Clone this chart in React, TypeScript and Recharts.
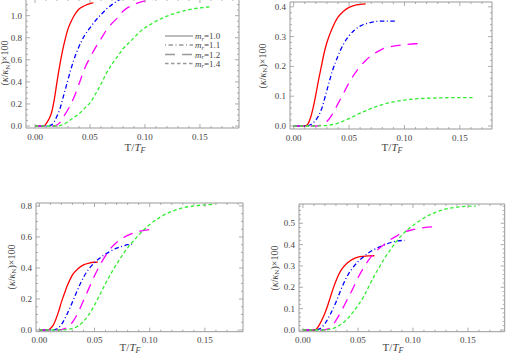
import React from "react"
import { LineChart, Line, XAxis, YAxis, Legend } from "recharts"

// kappa/kappa_N (x100) against T/T_F, four panels, one curve per mass ratio m_r
const massRatios = ["1.0", "1.1", "1.2", "1.4"]
const xMajor = [0, 0.05, 0.1, 0.15]

// panel (a) top left
const p1Red = [[0, 0], [0.008, 0], [0.01, 0.02], [0.0125, 0.06], [0.015, 0.12], [0.0175, 0.24], [0.02, 0.4], [0.0225, 0.55], [0.025, 0.68], [0.0275, 0.79], [0.03, 0.88], [0.0325, 0.94], [0.035, 0.99], [0.0375, 1.03], [0.04, 1.06], [0.045, 1.09], [0.05, 1.11], [0.053, 1.115]]
const p1Blue = [[0, 0], [0.012, 0], [0.015, 0.01], [0.0175, 0.04], [0.02, 0.09], [0.0225, 0.15], [0.025, 0.24], [0.0275, 0.33], [0.03, 0.42], [0.0325, 0.51], [0.035, 0.59], [0.0375, 0.66], [0.04, 0.72], [0.045, 0.82], [0.05, 0.89], [0.055, 0.955], [0.06, 1.01], [0.065, 1.06], [0.07, 1.1], [0.075, 1.135], [0.08, 1.155], [0.085, 1.165], [0.092, 1.17]]
const p1Magenta = [[0, 0], [0.018, 0], [0.02, 0.01], [0.0225, 0.03], [0.025, 0.07], [0.03, 0.15], [0.035, 0.25], [0.04, 0.38], [0.045, 0.52], [0.05, 0.62], [0.055, 0.71], [0.06, 0.79], [0.065, 0.87], [0.07, 0.93], [0.075, 0.98], [0.08, 1.04], [0.09, 1.1], [0.1, 1.135], [0.11, 1.15], [0.117, 1.155]]
const p1Green = [[0, 0], [0.02, 0], [0.025, 0.01], [0.03, 0.04], [0.035, 0.075], [0.04, 0.11], [0.045, 0.16], [0.05, 0.21], [0.055, 0.29], [0.06, 0.38], [0.065, 0.48], [0.07, 0.56], [0.075, 0.63], [0.08, 0.7], [0.085, 0.75], [0.09, 0.8], [0.095, 0.85], [0.1, 0.89], [0.105, 0.92], [0.11, 0.95], [0.12, 0.995], [0.13, 1.03], [0.14, 1.055], [0.15, 1.07], [0.159, 1.08]]

// panel (b) top right
const p2Red = [[0, 0], [0.01, 0], [0.0125, 0.005], [0.015, 0.025], [0.0175, 0.06], [0.02, 0.105], [0.0225, 0.155], [0.025, 0.2], [0.0275, 0.245], [0.03, 0.28], [0.035, 0.33], [0.04, 0.365], [0.045, 0.385], [0.05, 0.398], [0.055, 0.405], [0.06, 0.408], [0.065, 0.41]]
const p2Blue = [[0, 0], [0.012, 0], [0.015, 0.004], [0.02, 0.02], [0.025, 0.055], [0.03, 0.12], [0.035, 0.185], [0.04, 0.235], [0.045, 0.275], [0.05, 0.303], [0.055, 0.322], [0.06, 0.335], [0.065, 0.343], [0.07, 0.348], [0.08, 0.352], [0.092, 0.352]]
const p2Magenta = [[0, 0], [0.02, 0], [0.025, 0.004], [0.03, 0.015], [0.035, 0.04], [0.04, 0.075], [0.045, 0.11], [0.05, 0.145], [0.055, 0.175], [0.06, 0.2], [0.065, 0.22], [0.07, 0.236], [0.075, 0.248], [0.08, 0.258], [0.09, 0.268], [0.1, 0.273], [0.11, 0.276], [0.118, 0.277]]
const p2Green = [[0, 0], [0.02, 0], [0.03, 0.002], [0.035, 0.005], [0.04, 0.01], [0.045, 0.017], [0.05, 0.025], [0.055, 0.034], [0.06, 0.043], [0.065, 0.051], [0.07, 0.059], [0.075, 0.066], [0.08, 0.072], [0.085, 0.077], [0.09, 0.081], [0.1, 0.087], [0.11, 0.091], [0.12, 0.093], [0.13, 0.094], [0.14, 0.095], [0.162, 0.095]]

// panel (c) bottom left
const p3Red = [[0, 0], [0.008, 0], [0.01, 0.01], [0.0125, 0.03], [0.015, 0.07], [0.0175, 0.12], [0.02, 0.18], [0.0225, 0.23], [0.025, 0.28], [0.0275, 0.32], [0.03, 0.355], [0.035, 0.395], [0.04, 0.42], [0.045, 0.432], [0.05, 0.437], [0.053, 0.438]]
const p3Blue = [[0, 0], [0.012, 0], [0.015, 0.004], [0.02, 0.035], [0.025, 0.1], [0.03, 0.18], [0.035, 0.265], [0.04, 0.34], [0.045, 0.395], [0.05, 0.435], [0.055, 0.465], [0.06, 0.49], [0.065, 0.51], [0.07, 0.528], [0.075, 0.54], [0.08, 0.55], [0.084, 0.553]]
const p3Magenta = [[0, 0], [0.018, 0], [0.02, 0.003], [0.025, 0.015], [0.03, 0.05], [0.035, 0.11], [0.04, 0.19], [0.045, 0.27], [0.05, 0.35], [0.055, 0.42], [0.06, 0.48], [0.065, 0.53], [0.07, 0.565], [0.075, 0.59], [0.08, 0.61], [0.09, 0.635], [0.1, 0.648], [0.104, 0.65]]
const p3Green = [[0, 0], [0.02, 0], [0.025, 0.003], [0.03, 0.01], [0.035, 0.025], [0.04, 0.055], [0.045, 0.1], [0.05, 0.16], [0.055, 0.23], [0.06, 0.3], [0.065, 0.365], [0.07, 0.425], [0.075, 0.48], [0.08, 0.53], [0.085, 0.572], [0.09, 0.612], [0.095, 0.648], [0.1, 0.68], [0.11, 0.73], [0.12, 0.765], [0.13, 0.788], [0.14, 0.8], [0.15, 0.807], [0.159, 0.81]]

// panel (d) bottom right
const p4Red = [[0, 0], [0.011, 0], [0.0125, 0.006], [0.015, 0.025], [0.0175, 0.05], [0.02, 0.08], [0.0225, 0.115], [0.025, 0.155], [0.0275, 0.195], [0.03, 0.23], [0.0325, 0.26], [0.035, 0.283], [0.04, 0.313], [0.045, 0.331], [0.05, 0.341], [0.055, 0.345], [0.06, 0.347], [0.065, 0.348]]
const p4Blue = [[0, 0], [0.012, 0], [0.015, 0.005], [0.02, 0.03], [0.025, 0.075], [0.03, 0.13], [0.035, 0.195], [0.04, 0.25], [0.045, 0.29], [0.05, 0.32], [0.055, 0.343], [0.06, 0.363], [0.065, 0.378], [0.07, 0.39], [0.075, 0.401], [0.08, 0.41], [0.085, 0.417], [0.0925, 0.42]]
const p4Magenta = [[0, 0], [0.018, 0], [0.02, 0.002], [0.025, 0.01], [0.03, 0.045], [0.035, 0.09], [0.04, 0.14], [0.045, 0.19], [0.05, 0.245], [0.055, 0.29], [0.06, 0.33], [0.065, 0.36], [0.07, 0.385], [0.075, 0.405], [0.08, 0.425], [0.085, 0.44], [0.09, 0.455], [0.1, 0.47], [0.11, 0.48], [0.118, 0.483]]
const p4Green = [[0, 0], [0.02, 0], [0.025, 0.004], [0.03, 0.012], [0.035, 0.028], [0.04, 0.05], [0.045, 0.08], [0.05, 0.115], [0.055, 0.155], [0.06, 0.205], [0.065, 0.255], [0.07, 0.3], [0.075, 0.342], [0.08, 0.38], [0.085, 0.415], [0.09, 0.445], [0.095, 0.47], [0.1, 0.49], [0.11, 0.525], [0.12, 0.55], [0.13, 0.567], [0.14, 0.576], [0.15, 0.58], [0.157, 0.581]]

const seriesStyle = [
  { color: "#ff0000", dash: undefined },
  { color: "#0000ff", dash: "1 2.5 4.5 2.5" },
  { color: "#ff00ff", dash: "10 7" },
  { color: "#33ee33", dash: "3.5 2.5" },
]

const FRAME = "#999"
const TEXT = "#444"
const SERIF = "'Liberation Serif', 'Times New Roman', serif"

const range = (from: number, to: number, step: number) => {
  const out: number[] = []
  for (let i = 0; from + i * step <= to + 1e-9; i++) out.push(Number((from + i * step).toFixed(4)))
  return out
}

// margins are the frame position minus the 1px that each axis takes
const panels = [
  {
    id: "a", left: 0, top: -10, width: 253, height: 191,
    margin: { top: 8, right: 13, bottom: 52, left: 25 },
    xDomain: [-0.0082, 0.1855], yDomain: [-0.018, 1.151],
    yMajor: [0, 0.2, 0.4, 0.6, 0.8, 1.0], yMinor: 0.05,
    series: [p1Red, p1Blue, p1Magenta, p1Green],
    yTitle: [4.5, 63], xTitle: [135, 147], legend: true,
  },
  {
    id: "b", left: 253, top: 0, width: 253, height: 181,
    margin: { top: 1, right: 13, bottom: 51, left: 36 },
    xDomain: [-0.0033, 0.179], yDomain: [-0.0101, 0.4161],
    yMajor: [0, 0.1, 0.2, 0.3, 0.4], yMinor: 0.02,
    series: [p2Red, p2Blue, p2Magenta, p2Green],
    yTitle: [262, 66], xTitle: [392, 147], legend: false,
  },
  {
    id: "c", left: 0, top: 181, width: 253, height: 181,
    margin: { top: 21, right: 9, bottom: 29.3, left: 35 },
    xDomain: [-0.003, 0.1845], yDomain: [-0.011, 0.819],
    yMajor: [0, 0.2, 0.4, 0.6, 0.8], yMinor: 0.05,
    series: [p3Red, p3Blue, p3Magenta, p3Green],
    yTitle: [11, 267], xTitle: [130, 346.5], legend: false,
  },
  {
    id: "d", left: 253, top: 181, width: 253, height: 181,
    margin: { top: 22, right: 0.3, bottom: 29.3, left: 45 },
    xDomain: [-0.0036, 0.1834], yDomain: [-0.008, 0.5904],
    yMajor: [0, 0.1, 0.2, 0.3, 0.4, 0.5], yMinor: 0.02,
    series: [p4Red, p4Blue, p4Magenta, p4Green],
    yTitle: [274, 268], xTitle: [393, 346.5], legend: false,
  },
]

// Mathematica-style frame tick: drawn inward, labels only on bottom/left majors
function FrameTick(props: any) {
  const { x, y, payload, side, major, digits } = props
  const v = payload.value
  const isMajor = major.some((m: number) => Math.abs(m - v) < 1e-6)
  const len = isMajor ? 4 : 2
  let x2 = x
  let y2 = y
  if (side === "bottom") y2 = y - len
  if (side === "top") y2 = y + len
  if (side === "left") x2 = x + len
  if (side === "right") x2 = x - len
  return (
    <g>
      <line x1={x} y1={y} x2={x2} y2={y2} stroke={FRAME} strokeWidth={0.8} />
      {isMajor && side === "bottom" && (
        <text x={x} y={y + 11.5} textAnchor="middle" fontSize={9} fill={TEXT} fontFamily={SERIF}>
          {v.toFixed(digits)}
        </text>
      )}
      {isMajor && side === "left" && (
        <text x={x - 4} y={y + 3} textAnchor="end" fontSize={9} fill={TEXT} fontFamily={SERIF}>
          {v.toFixed(digits)}
        </text>
      )}
    </g>
  )
}

function MassLegend() {
  return (
    <svg width={80} height={42} style={{ display: "block" }}>
      {massRatios.map((m, i) => {
        const cy = [6, 15, 24.5, 33.5][i]
        return (
          <g key={m}>
            <line x1={0} x2={28} y1={cy} y2={cy} stroke="#999" strokeWidth={1.3} strokeDasharray={seriesStyle[i].dash} />
            <text x={30} y={cy + 3} fontSize={9} fill={TEXT} fontFamily={SERIF}>
              <tspan fontStyle="italic">m</tspan>
              <tspan fontStyle="italic" fontSize={6.5} dy={1.5}>r</tspan>
              <tspan dy={-1.5}>={m}</tspan>
            </text>
          </g>
        )
      })}
    </svg>
  )
}

function Panel({ cfg }: any) {
  const xTicks = range(0, cfg.xDomain[1], 0.01)
  const yTicks = range(0, cfg.yDomain[1], cfg.yMinor)
  // rotated title: baseline sits right of the visual centre
  const [ytx, yty] = [cfg.yTitle[0] - cfg.left + 3.5, cfg.yTitle[1] - cfg.top]
  const [xtx, xty] = [cfg.xTitle[0] - cfg.left, cfg.xTitle[1] - cfg.top]
  const tickProps = { tickSize: 0, tickMargin: 0, interval: 0 as const, allowDataOverflow: true, stroke: FRAME }
  return (
    <div style={{ position: "absolute", left: cfg.left, top: cfg.top }}>
      <LineChart width={cfg.width} height={cfg.height} margin={cfg.margin}>
        <XAxis xAxisId="b" type="number" dataKey="x" domain={cfg.xDomain} ticks={xTicks} height={1} {...tickProps}
          tick={(p: any) => <FrameTick {...p} side="bottom" major={xMajor} digits={2} />} />
        <XAxis xAxisId="t" orientation="top" type="number" dataKey="x" domain={cfg.xDomain} ticks={xTicks} height={1} {...tickProps}
          tick={(p: any) => <FrameTick {...p} side="top" major={xMajor} digits={2} />} />
        <YAxis yAxisId="l" type="number" domain={cfg.yDomain} ticks={yTicks} width={1} {...tickProps}
          tick={(p: any) => <FrameTick {...p} side="left" major={cfg.yMajor} digits={1} />} />
        <YAxis yAxisId="r" orientation="right" type="number" domain={cfg.yDomain} ticks={yTicks} width={1} {...tickProps}
          tick={(p: any) => <FrameTick {...p} side="right" major={cfg.yMajor} digits={1} />} />
        {cfg.series.map((s: number[][], i: number) => (
          <Line
            key={i}
            xAxisId="b"
            yAxisId="l"
            data={s.map(([x, y]) => ({ x, y }))}
            dataKey="y"
            name={`m_r=${massRatios[i]}`}
            type="monotone"
            stroke={seriesStyle[i].color}
            strokeWidth={1.3}
            strokeDasharray={seriesStyle[i].dash}
            dot={false}
            activeDot={false}
            isAnimationActive={false}
          />
        ))}
        <text x={xtx} y={xty + 4} textAnchor="middle" fontSize={11} fill={TEXT} fontFamily={SERIF}>
          T/<tspan fontStyle="italic">T</tspan>
          <tspan fontStyle="italic" fontSize={8} dy={2}>F</tspan>
        </text>
        <text x={ytx} y={yty} transform={`rotate(-90 ${ytx} ${yty})`} textAnchor="middle" fontSize={10} fill={TEXT} fontFamily={SERIF}>
          (<tspan fontStyle="italic">κ</tspan>/<tspan fontStyle="italic">κ</tspan>
          <tspan fontSize={7} dy={1.5}>N</tspan>
          <tspan dy={-1.5}>)×100</tspan>
        </text>
        {cfg.legend && (
          <Legend layout="horizontal" verticalAlign="middle" align="center"
            wrapperStyle={{ left: 165, top: 40, width: 80, height: 42 }}
            content={() => <MassLegend />} />
        )}
      </LineChart>
    </div>
  )
}

export default function App() {
  return (
    <div style={{ position: "absolute", left: 0, top: 0, width: 506, height: 362, overflow: "hidden", background: "#fff" }}>
      {panels.map((cfg) => (
        <Panel key={cfg.id} cfg={cfg} />
      ))}
    </div>
  )
}
